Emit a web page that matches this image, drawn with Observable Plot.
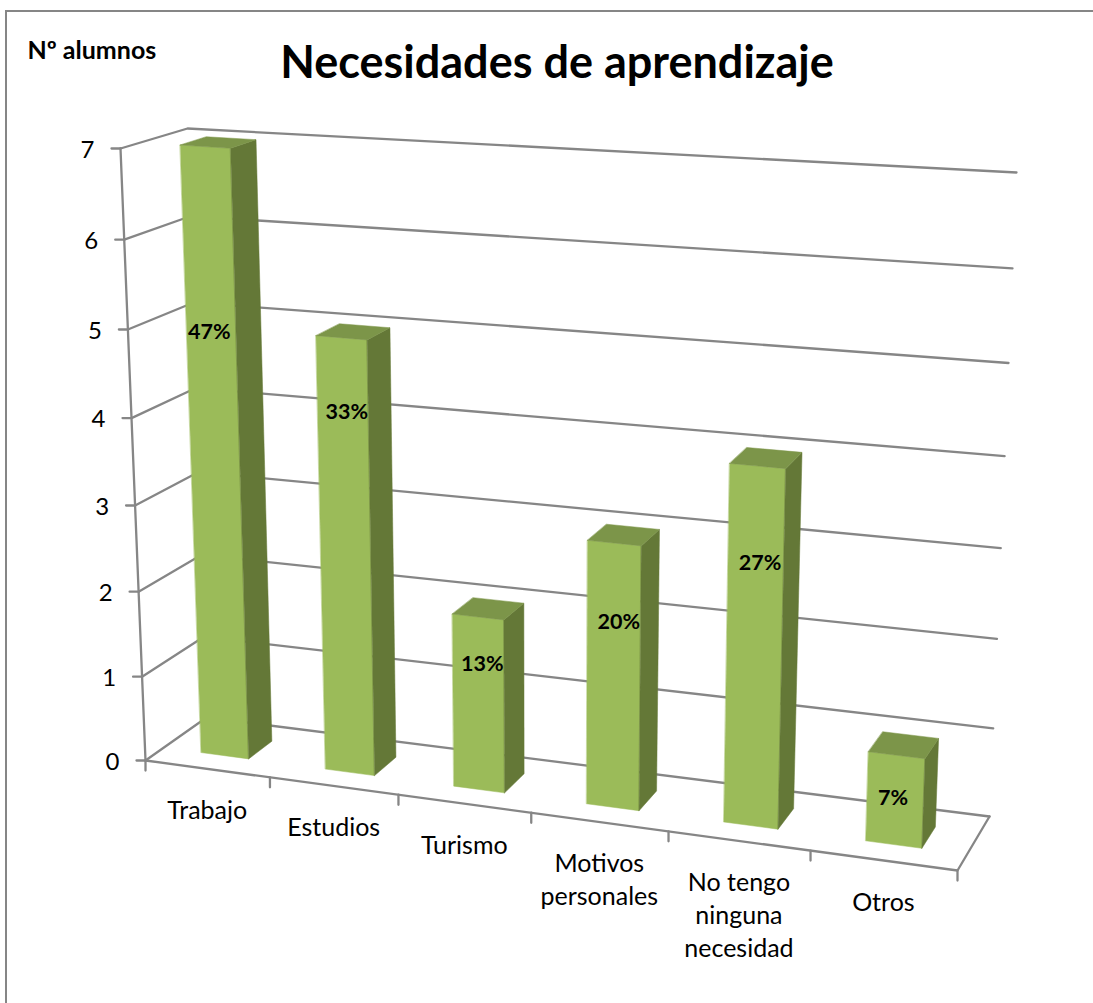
<!DOCTYPE html>
<html lang="es">
<head>
<meta charset="utf-8">
<title>Necesidades de aprendizaje</title>
<script src="https://cdn.jsdelivr.net/npm/d3@7"></script>
<script src="https://cdn.jsdelivr.net/npm/@observablehq/plot@0.6"></script>
<style>
  html, body { margin: 0; padding: 0; background: #fff; }
  #chart { position: relative; width: 1093px; height: 1003px; overflow: hidden; }
  #chart::before { content: ""; position: absolute; left: 5px; top: 10px; right: -4px; bottom: -4px; border: 2px solid #868686; }
  #chart svg { position: absolute; left: 0; top: 0; background: transparent; }
</style>
</head>
<body>
<div id="chart"></div>
<script>
// --- data ---
const categories = ["Trabajo", "Estudios", "Turismo", "Motivos\npersonales", "No tengo\nninguna\nnecesidad", "Otros"];
const alumnos = [7, 5, 2, 3, 4, 1];
const percentLabels = ["47%", "33%", "13%", "20%", "27%", "7%"];
const percentLevels = [4.94, 4.17, 1.46, 2.12, 2.95, 0.52]; // height of each label, in alumnos
const percentCenters = [0.485, 0.53, 0.53, 0.536, 0.53, 0.485]; // place across each category
const yTicks = [0, 1, 2, 3, 4, 5, 6, 7];

// --- view of the 3-D box (front/back, left/right, bottom/top) on the page ---
const view = {
  FLB: [145, 760], FRB: [957, 870], BLB: [206, 717], BRB: [989, 816],
  FLT: [120, 148], FRT: [981, 208], BLT: [187, 128], BRT: [1016, 172],
  kx: 1.105, ky: 1.05
};
const mix = (a, b, s) => [a[0] + (b[0] - a[0]) * s, a[1] + (b[1] - a[1]) * s];
const warp = (s, k) => (s <= 0 ? 0 : s >= 1 ? 1 : s / (s + k * (1 - s)));
// category position c (0..6), value v (0..7), depth d (0 front .. 1 back)
function project(c, v, d) {
  const u = warp(c / categories.length, view.kx), w = warp(v / 7, view.ky);
  const bottom = mix(mix(view.FLB, view.FRB, u), mix(view.BLB, view.BRB, u), d);
  const top = mix(mix(view.FLT, view.FRT, u), mix(view.BLT, view.BRT, u), d);
  return mix(bottom, top, w);
}
const pt = (id, c, v, d) => { const [x, y] = project(c, v, d); return {id, x, y}; };
const seg = (id, ...pts) => pts.map(([c, v, d]) => pt(id, c, v, d));

const n = categories.length;
const halfBar = 0.193, depth0 = 0.30, depth1 = 0.70;

// gridlines: side wall + back wall per value, floor edges, axis edge
const wallLines = yTicks.flatMap(v => seg("g" + v, [0, v, 0], [0, v, 1], [n, v, 1]));
const floorLines = seg("floor", [0, 0, 0], [n, 0, 0], [n, 0, 1]);
const axisLine = seg("axis", [0, 0, 0], [0, 7, 0]);
const yTickMarks = yTicks.flatMap(v => {
  const p = project(0, v, 0);
  return [{id: "yt" + v, x: p[0], y: p[1]}, {id: "yt" + v, x: p[0] - 9, y: p[1]}];
});
const xTickMarks = d3.range(n + 1).flatMap(i => {
  const p = project(i, 0, 0);
  return [{id: "xt" + i, x: p[0], y: p[1]}, {id: "xt" + i, x: p[0], y: p[1] + 10}];
});

// bar faces
const frontFaces = [], sideFaces = [], topFaces = [];
alumnos.forEach((v, i) => {
  const a = i + 0.5 - halfBar, b = i + 0.5 + halfBar, id = categories[i];
  frontFaces.push(...seg(id, [a, 0, depth0], [b, 0, depth0], [b, v, depth0], [a, v, depth0]));
  sideFaces.push(...seg(id, [b, 0, depth0], [b, 0, depth1], [b, v, depth1], [b, v, depth0]));
  topFaces.push(...seg(id, [a, v, depth0], [b, v, depth0], [b, v, depth1], [a, v, depth1]));
});

const yLabels = yTicks.map(v => { const p = project(0, v, 0); return {t: String(v), x: p[0], y: p[1]}; });
const xLabels = categories.map((t, i) => { const p = project(i + 0.5, 0, 0); return {t, x: p[0], y: p[1]}; });
const pctLabels = percentLabels.map((t, i) => { const p = project(i + percentCenters[i], percentLevels[i], depth0); return {t, x: p[0], y: p[1]}; });

const FONT = "Lato, Carlito, Calibri, sans-serif";
const GRID = "#868686";
const lineOpts = {x: "x", y: "y", z: "id", stroke: GRID, strokeWidth: 2.3, curve: "linear"};
const faceOpts = fill => ({x: "x", y: "y", z: "id", fill, stroke: fill, strokeWidth: 0.5, curve: "linear-closed"});

const chart = Plot.plot({
  width: 1093, height: 1003, margin: 0,
  x: {domain: [0, 1093], range: [0, 1093], axis: null},
  y: {domain: [0, 1003], range: [0, 1003], axis: null},
  style: {background: "transparent", fontFamily: FONT},
  marks: [
    Plot.line(wallLines, lineOpts),
    Plot.line(floorLines, lineOpts),
    Plot.line(axisLine, lineOpts),
    Plot.line(yTickMarks, lineOpts),
    Plot.line(xTickMarks, lineOpts),
    Plot.line(frontFaces, faceOpts("#9BBB59")),
    Plot.line(sideFaces, faceOpts("#647837")),
    Plot.line(topFaces, faceOpts("#7C9549")),
    Plot.text(yLabels, {x: "x", y: "y", text: "t", textAnchor: "end", dx: -26, dy: 1.5, fontSize: 24, fill: "#000"}),
    Plot.text(xLabels, {x: "x", y: "y", text: "t", lineAnchor: "top", dy: 27, lineHeight: 1.32, fontSize: 25, fill: "#000"}),
    Plot.text(pctLabels, {x: "x", y: "y", text: "t", fontSize: 21.5, fontWeight: 700, fill: "#000"}),
    Plot.text(["Necesidades de aprendizaje"], {frameAnchor: "top", dy: 46, lineAnchor: "top", dx: 10, fontSize: 45, fontWeight: 700, fill: "#000"}),
    Plot.text(["Nº alumnos"], {frameAnchor: "top-left", dx: 27, dy: 41, lineAnchor: "top", fontSize: 25, fontWeight: 700, fill: "#000"})
  ]
});
document.getElementById("chart").appendChild(chart);
</script>
</body>
</html>
